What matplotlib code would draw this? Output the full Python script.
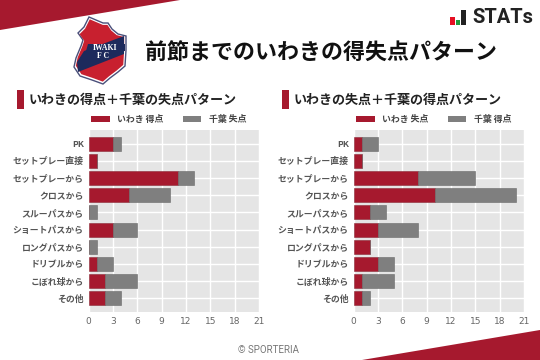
import matplotlib
matplotlib.use('Agg')
import matplotlib.pyplot as plt
from matplotlib.patches import Polygon, Rectangle
import numpy as np

plt.rcParams['font.family'] = ['Noto Sans CJK JP', 'DejaVu Sans']

categories = ['PK', 'セットプレー直接', 'セットプレーから', 'クロスから', 'スルーパスから',
              'ショートパスから', 'ロングパスから', 'ドリブルから', 'こぼれ球から', 'その他']
left_iwaki = [3, 1, 11, 5, 0, 3, 0, 1, 2, 2]
left_chiba = [1, 0, 2, 5, 1, 3, 1, 2, 4, 2]
right_iwaki = [1, 1, 8, 10, 2, 3, 2, 3, 1, 1]
right_chiba = [2, 0, 7, 10, 2, 5, 0, 2, 4, 1]
x_ticks = [0, 3, 6, 9, 12, 15, 18, 21]
title = '前節までのいわきの得失点パターン'
left_title = 'いわきの得点＋千葉の失点パターン'
right_title = 'いわきの失点＋千葉の得点パターン'
left_legend = ['いわき 得点', '千葉 失点']
right_legend = ['いわき 失点', '千葉 得点']

RED = '#a6192e'
GRAY = '#7f7f7f'
W, H = 540, 360
fig = plt.figure(figsize=(5.4, 3.6), dpi=100, facecolor='white')

# overlay in pixel coordinates for page furniture
bg = fig.add_axes([0, 0, 1, 1], zorder=0)
bg.set_xlim(0, W); bg.set_ylim(H, 0); bg.axis('off')
bg.add_patch(Polygon([(0, 0), (180, 0), (0, 30)], fc=RED, ec='none'))
bg.add_patch(Polygon([(362, 360), (540, 330), (540, 360)], fc=RED, ec='none'))

# club crest
outline = [(89, 17), (96, 20), (103, 23), (108, 23), (112, 29), (118, 34), (126, 36), (126, 50),
           (125, 66), (118, 72), (110, 78), (103, 84), (92, 80), (80, 76), (74, 67), (76, 58),
           (81, 46), (83, 40), (78, 33), (84, 27)]
bg.add_patch(Polygon(outline, fc='white', ec='#4a4f7a', lw=1.0))
inner = [(x + (100 - x) * 0.07, y + (50 - y) * 0.07) for x, y in outline]
bg.add_patch(Polygon(inner, fc='#c8202f', ec='none'))
bg.add_patch(Polygon([(84, 51), (124, 36), (124, 54), (78, 72), (77, 62)], fc='#1d2a5c', ec='none'))
bg.add_patch(Polygon([(88, 44), (125, 44), (125, 51), (86, 51)], fc='#1d2a5c', ec='none'))
bg.text(105, 47.5, 'IWAKI', family='Liberation Serif', weight='bold', color='white', fontsize=5.6,
        ha='center', va='center')
bg.text(103, 55.5, 'F C', family='Liberation Serif', weight='bold', color='white', fontsize=5.6,
        ha='center', va='center')

# stats mark
bg.add_patch(Rectangle((450, 17), 4.5, 8, fc='#e60f23', ec='none'))
bg.add_patch(Rectangle((455.5, 20), 4.5, 5, fc='#1f9a3c', ec='none'))
bg.add_patch(Rectangle((461, 10), 4.5, 15, fc='#222222', ec='none'))
bg.text(472, 17.5, 'STATs', family='Roboto', weight='bold', color='#222222', fontsize=14.5,
        ha='left', va='center')

bg.text(321, 53, title, fontsize=15.8, weight='bold', color='#111111', ha='center', va='center')
bg.text(269, 350, '© SPORTERIA', family='Roboto', color='#777777', fontsize=7, ha='center', va='center')


def panel(x0, sub, a, b, legend):
    ax = fig.add_axes([(x0 + 88.5) / W, 1 - 311.5 / H, 170.5 / W, 181.5 / H], zorder=1)
    y = np.arange(len(categories))
    ax.set_facecolor('#e5e5e5')
    ax.barh(y, a, height=0.82, color=RED, edgecolor='#8a2a38', linewidth=0.4, zorder=3)
    ax.barh(y, b, left=a, height=0.82, color=GRAY, edgecolor='#6a6a6a', linewidth=0.4, zorder=3)
    ax.set_xlim(0, 21)
    ax.set_ylim(9.76, -0.79)
    ax.set_xticks(x_ticks)
    ax.set_yticks(y, categories)
    ax.grid(color='white', linewidth=1.0, zorder=1)
    ax.set_axisbelow(True)
    for s in ax.spines.values():
        s.set_visible(False)
    ax.tick_params(axis='both', length=0)
    ax.tick_params(axis='y', pad=3.5, labelsize=6.4, labelcolor='#555555')
    ax.tick_params(axis='x', pad=4, labelsize=6.5, labelcolor='#666666')
    for t in ax.get_yticklabels():
        t.set_fontweight('bold')
    for t in ax.get_xticklabels():
        t.set_family('DejaVu Sans')
    # section heading and legend
    bg.add_patch(Rectangle((x0 + 17, 90), 7, 19, fc=RED, ec='none'))
    bg.text(x0 + 29, 100, sub, fontsize=9.4, weight='bold', color='#222222', ha='left', va='center')
    bg.add_patch(Rectangle((x0 + 91, 116), 19, 6, fc=RED, ec='none'))
    bg.text(x0 + 117, 119.5, legend[0], fontsize=6.4, weight='bold', color='#444444', ha='left', va='center')
    bg.add_patch(Rectangle((x0 + 183, 116), 18, 6, fc=GRAY, ec='none'))
    bg.text(x0 + 209, 119.5, legend[1], fontsize=6.4, weight='bold', color='#444444', ha='left', va='center')


panel(0, left_title, left_iwaki, left_chiba, left_legend)
panel(265, right_title, right_iwaki, right_chiba, right_legend)

fig.savefig('out.png', dpi=100)
